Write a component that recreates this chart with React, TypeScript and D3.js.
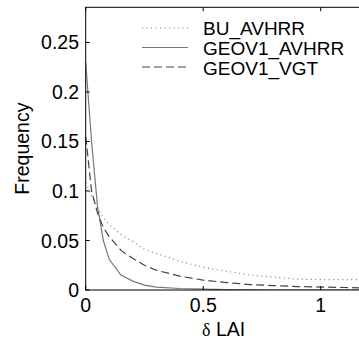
import React from 'react';
import * as d3 from 'd3';

const dLAI = [0, 0.025, 0.05, 0.075, 0.1, 0.15, 0.2, 0.25, 0.3, 0.4, 0.5, 0.6, 0.7, 0.8, 0.9, 1.0, 1.1, 1.2];
const buAvhrr = [0.108, 0.095, 0.083, 0.073, 0.066, 0.056, 0.049, 0.041, 0.037, 0.029, 0.023, 0.019, 0.015, 0.013, 0.011, 0.0105, 0.0105, 0.0105];
const geoAvhrr = [0.23, 0.15, 0.085, 0.05, 0.031, 0.015, 0.009, 0.005, 0.003, 0.0015, 0.0008, 0.0003, 0.0001, 0, 0, 0, 0, 0];
const geoVgt = [0.155, 0.1, 0.078, 0.063, 0.054, 0.04, 0.032, 0.025, 0.02, 0.014, 0.01, 0.0075, 0.0055, 0.0045, 0.0035, 0.003, 0.0025, 0.002];

const seriesNames = ['BU_AVHRR', 'GEOV1_AVHRR', 'GEOV1_VGT'];
const xTicks = [0, 0.5, 1];
const yTicks = [0, 0.05, 0.1, 0.15, 0.2, 0.25];

const W = 359;
const H = 340;
const font = '"Liberation Sans", Arial, Helvetica, sans-serif';

const App = () => {
  const x = d3.scaleLinear().domain([0, 1.2]).range([85.7, 367.7]);
  const y = d3.scaleLinear().domain([0, 0.2855]).range([290, 7.3]);

  const line = (vals: number[]) =>
    d3.line<number>().x((_, i) => x(dLAI[i])).y((d) => y(d))(vals) || '';

  const series = [
    { name: seriesNames[0], vals: buAvhrr, color: '#777', dash: '1,3.5' },
    { name: seriesNames[1], vals: geoAvhrr, color: '#777', dash: null },
    { name: seriesNames[2], vals: geoVgt, color: '#444', dash: '8,4' },
  ];

  const left = x(0);
  const right = x(1.2);
  const top = y(0.2855);
  const bottom = y(0);

  return (
    <svg width={W} height={H} style={{ position: 'absolute', left: 0, top: 0, background: '#fff' }}
      fontFamily={font}>
      <defs>
        <clipPath id="plot">
          <rect x={left} y={top} width={right - left} height={bottom - top} />
        </clipPath>
      </defs>

      {/* curves */}
      <g clipPath="url(#plot)">
        {series.map((s) => (
          <path key={s.name} d={line(s.vals)} fill="none" stroke={s.color} strokeWidth={1.2}
            strokeDasharray={s.dash || undefined} />
        ))}
      </g>

      {/* box */}
      <rect x={left} y={top} width={right - left} height={bottom - top} fill="none" stroke="#000" strokeWidth={1} />

      {/* y ticks */}
      {yTicks.map((t) => (
        <g key={'y' + t}>
          <line x1={left} x2={left + 4} y1={y(t)} y2={y(t)} stroke="#000" />
          <text x={79} y={y(t)} dy="0.36em" textAnchor="end" fontSize={19.5}>{t}</text>
        </g>
      ))}

      {/* x ticks */}
      {xTicks.map((t) => (
        <g key={'x' + t}>
          <line x1={x(t)} x2={x(t)} y1={bottom} y2={bottom - 4} stroke="#000" />
          <line x1={x(t)} x2={x(t)} y1={top} y2={top + 4} stroke="#000" />
          <text x={x(t)} y={312} textAnchor="middle" fontSize={19.5}>{t}</text>
        </g>
      ))}

      {/* axis labels */}
      <text x={(left + right) / 2 - 3} y={336} textAnchor="middle" fontSize={19.5}>
        <tspan fontFamily='"Liberation Serif", "Times New Roman", serif' fontSize={18}>δ</tspan> LAI
      </text>
      <text transform={`translate(29,${(top + bottom) / 2}) rotate(-90)`} textAnchor="middle" fontSize={19.5}>
        Frequency
      </text>

      {/* legend */}
      {series.map((s, i) => (
        <g key={'leg' + s.name}>
          <line x1={142} x2={188} y1={28 + i * 19.5} y2={28 + i * 19.5} stroke={s.color} strokeWidth={1.2}
            strokeDasharray={s.dash || undefined} />
          <text x={203} y={34.5 + i * 20} fontSize={19}>{s.name}</text>
        </g>
      ))}
    </svg>
  );
};

export default App;
